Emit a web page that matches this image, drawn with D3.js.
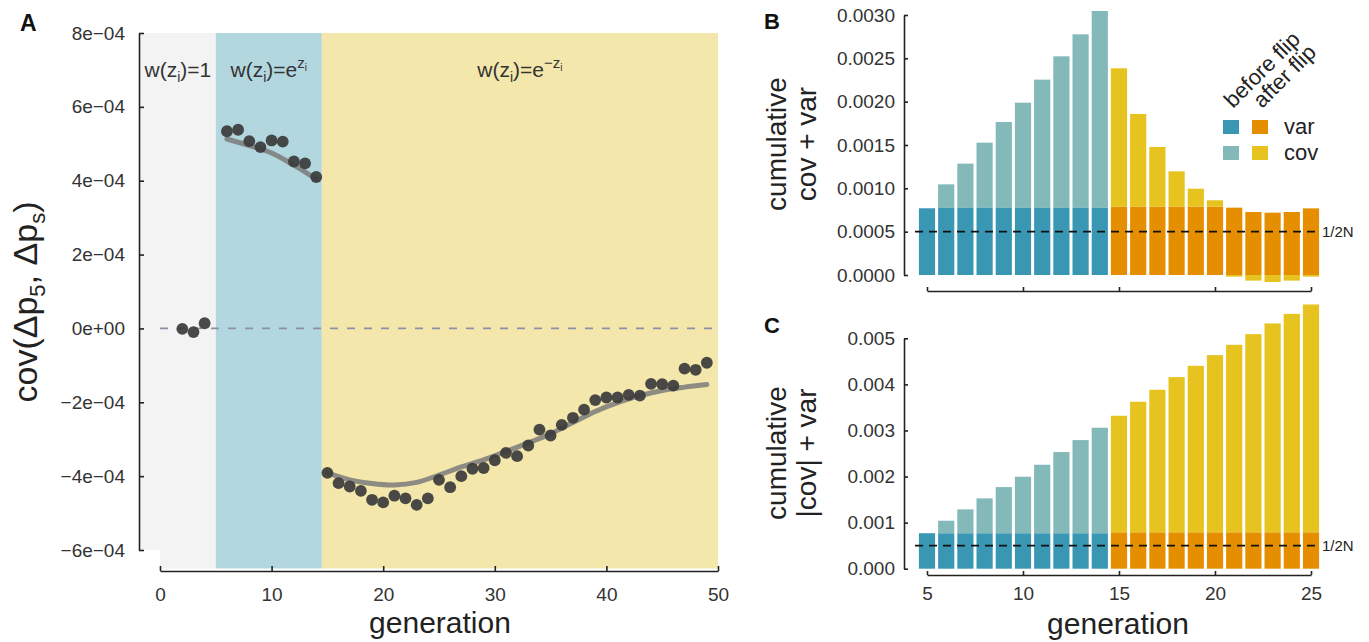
<!DOCTYPE html>
<html>
<head>
<meta charset="utf-8">
<script src="https://cdn.jsdelivr.net/npm/d3@7"></script>
<style>
body { margin: 0; background: #fff; }
svg { font-family: 'Liberation Sans', Arial, Helvetica, sans-serif; }
.axis path, .axis line { stroke: #222; stroke-width: 1.6; }
.axis text { font-size: 19px; fill: #333; font-family: 'Liberation Sans', Arial, sans-serif; }
</style>
</head>
<body>
<svg id="chart" width="1369" height="642"></svg>
<script>
// ---- panel A : cov(dp5, dps) per generation
var genA = [2, 3, 4,
    6, 7, 8, 9, 10, 11, 12, 13, 14,
    15, 16, 17, 18, 19, 20, 21, 22, 23, 24, 25, 26, 27, 28, 29, 30, 31, 32,
    33, 34, 35, 36, 37, 38, 39, 40, 41, 42, 43, 44, 45, 46, 47, 48, 49];
var covA = [-0.01e-4, -0.10e-4, 0.14e-4,
    5.34e-4, 5.38e-4, 5.07e-4, 4.91e-4, 5.09e-4, 5.06e-4, 4.52e-4, 4.47e-4, 4.10e-4,
    -3.91e-4, -4.19e-4, -4.28e-4, -4.40e-4, -4.64e-4, -4.71e-4, -4.53e-4, -4.60e-4, -4.78e-4, -4.60e-4,
    -4.10e-4, -4.30e-4, -4.00e-4, -3.80e-4, -3.78e-4, -3.57e-4, -3.37e-4, -3.46e-4, -3.17e-4, -2.74e-4,
    -2.90e-4, -2.61e-4, -2.42e-4, -2.20e-4, -1.94e-4, -1.87e-4, -1.87e-4, -1.80e-4, -1.82e-4, -1.50e-4,
    -1.51e-4, -1.55e-4, -1.09e-4, -1.12e-4, -0.93e-4];

var smoothGenBlue = [6, 8, 10, 12, 14];
var smoothBlue = [5.13e-4, 4.95e-4, 4.75e-4, 4.42e-4, 4.04e-4];
var smoothGenYellow = [15, 17, 19, 21, 23, 25, 27, 29, 31, 33, 35, 37, 39, 41, 43, 45, 47, 49];
var smoothYellow = [-3.91e-4, -4.10e-4, -4.20e-4, -4.24e-4, -4.17e-4, -3.97e-4, -3.75e-4, -3.56e-4, -3.33e-4,
    -3.10e-4, -2.85e-4, -2.55e-4, -2.25e-4, -2.01e-4, -1.82e-4, -1.68e-4, -1.59e-4, -1.52e-4];

var regionStart = [-1.8, 5, 14.5];
var regionEnd = [5, 14.5, 50];
var regionColors = ["#f3f3f3", "#b3d7df", "#f3e7ab"];

var yTicksA = [-6e-4, -4e-4, -2e-4, 0, 2e-4, 4e-4, 6e-4, 8e-4];
var yTickLabelsA = ["\u22126e\u221204", "\u22124e\u221204", "\u22122e\u221204", "0e+00", "2e\u221204", "4e\u221204", "6e\u221204", "8e\u221204"];
var xTicksA = [0, 10, 20, 30, 40, 50];

// ---- panels B and C : cumulative values, generations 5..25
var genBC = [5, 6, 7, 8, 9, 10, 11, 12, 13, 14, 15, 16, 17, 18, 19, 20, 21, 22, 23, 24, 25];
var flipGen = 15;
var varB = [0.00077, 0.00078, 0.00078, 0.00078, 0.00078, 0.00078, 0.00078, 0.00078, 0.00078, 0.00078,
    0.00079, 0.00079, 0.00079, 0.00079, 0.00079, 0.00079, 0.000777, 0.000727, 0.000719, 0.000727, 0.000769];
var covB = [0, 0.000266, 0.000505, 0.000747, 0.000985, 0.001208, 0.001474, 0.001743, 0.001997, 0.002266,
    0.001595, 0.001068, 0.000687, 0.000406, 0.000206, 0.000072, -0.000019, -0.000065, -0.000081, -0.000065, -0.000019];
var varC = [0.00077, 0.00077, 0.00077, 0.00077, 0.00077, 0.00077, 0.00077, 0.00077, 0.00077, 0.00077,
    0.00079, 0.00079, 0.00079, 0.00079, 0.00079, 0.00079, 0.00079, 0.00079, 0.00079, 0.00079, 0.00079];
var absCovC = [0, 0.000271, 0.000517, 0.000756, 0.001001, 0.001226, 0.001486, 0.001761, 0.002021, 0.002289,
    0.002529, 0.002833, 0.003093, 0.003368, 0.003613, 0.003845, 0.004069, 0.004300, 0.004532, 0.004741, 0.004944];
var halfN = 0.0005;

var yTicksB = [0, 0.0005, 0.001, 0.0015, 0.002, 0.0025, 0.003];
var yTicksC = [0, 0.001, 0.002, 0.003, 0.004, 0.005];
var xTicksBC = [5, 10, 15, 20, 25];

var colVarBefore = "#3a97b4", colCovBefore = "#83b9b9";
var colVarAfter = "#e58f00", colCovAfter = "#e6c31e";

var svg = d3.select("#chart");

function richText(sel, parts) {
    // parts: [text, fontSize, dy]
    parts.forEach(function(p) {
        sel.append("tspan").text(p[0]).attr("font-size", p[1]).attr("dy", p[2]);
    });
}

// ================= PANEL A =================
var xA = d3.scaleLinear().domain([0, 50]).range([160, 718]);
var yA = d3.scaleLinear().domain([-6e-4, 8e-4]).range([550, 33]);
var gA = svg.append("g");

regionStart.forEach(function(s, i) {
    gA.append("rect")
        .attr("x", xA(s)).attr("y", yA(8e-4))
        .attr("width", xA(regionEnd[i]) - xA(s))
        .attr("height", yA(-6.5e-4) - yA(8e-4))
        .attr("fill", regionColors[i]);
});
// white corner where the capped axes leave a gap
gA.append("rect")
    .attr("x", xA(-1.8)).attr("y", yA(-6e-4))
    .attr("width", xA(0) - xA(-1.8)).attr("height", yA(-6.5e-4) - yA(-6e-4) + 2)
    .attr("fill", "#fff");

gA.append("line")
    .attr("x1", xA(0)).attr("x2", xA(50))
    .attr("y1", yA(0)).attr("y2", yA(0))
    .attr("stroke", "#8d8fa2").attr("stroke-width", 1.8)
    .attr("stroke-dasharray", "8,9");

var line = d3.line()
    .x(function(d) { return xA(d[0]); })
    .y(function(d) { return yA(d[1]); })
    .curve(d3.curveCatmullRom);

gA.append("path")
    .datum(smoothGenBlue.map(function(g, i) { return [g, smoothBlue[i]]; }))
    .attr("d", line).attr("fill", "none")
    .attr("stroke", "#7a7a7a").attr("stroke-opacity", 0.85)
    .attr("stroke-width", 5).attr("stroke-linecap", "round");
gA.append("path")
    .datum(smoothGenYellow.map(function(g, i) { return [g, smoothYellow[i]]; }))
    .attr("d", line).attr("fill", "none")
    .attr("stroke", "#7a7a7a").attr("stroke-opacity", 0.85)
    .attr("stroke-width", 5).attr("stroke-linecap", "round");

gA.selectAll("circle.pt")
    .data(genA)
    .enter()
    .append("circle")
    .attr("class", "pt")
    .attr("cx", function(d) { return xA(d); })
    .attr("cy", function(d, i) { return yA(covA[i]); })
    .attr("r", 5.9)
    .attr("fill", "#3b3b3b")
    .attr("fill-opacity", 0.92);

gA.append("g")
    .attr("class", "axis")
    .attr("transform", "translate(139,0)")
    .call(d3.axisLeft(yA).tickValues(yTicksA).tickSize(-5).tickSizeOuter(0).tickPadding(14)
        .tickFormat(function(d, i) { return yTickLabelsA[i]; }));

gA.append("g")
    .attr("class", "axis")
    .attr("transform", "translate(0,571)")
    .call(d3.axisBottom(xA).tickValues(xTicksA).tickSize(-5).tickSizeOuter(0).tickPadding(17));

// region labels
var lab1 = gA.append("text").attr("x", (xA(-1.8) + xA(5)) / 2).attr("y", 77)
    .attr("text-anchor", "middle").attr("fill", "#333");
richText(lab1, [["w(z", 21, 0], ["i", 14, 5], [")=1", 21, -5]]);
var lab2 = gA.append("text").attr("x", (xA(5) + xA(14.5)) / 2).attr("y", 77)
    .attr("text-anchor", "middle").attr("fill", "#333");
richText(lab2, [["w(z", 21, 0], ["i", 14, 5], [")=e", 21, -5], ["z", 15, -9], ["i", 10, 3]]);
var lab3 = gA.append("text").attr("x", (xA(14.5) + xA(50)) / 2).attr("y", 77)
    .attr("text-anchor", "middle").attr("fill", "#333");
richText(lab3, [["w(z", 21, 0], ["i", 14, 5], [")=e", 21, -5], ["\u2212z", 15, -9], ["i", 10, 3]]);

var ytA = gA.append("text").attr("transform", "translate(37,302) rotate(-90)")
    .attr("text-anchor", "middle").attr("fill", "#222");
richText(ytA, [["cov(\u0394p", 34, 0], ["5", 22, 8], [",  \u0394p", 34, -8], ["s", 22, 8], [")", 34, -8]]);

gA.append("text").attr("x", 440).attr("y", 633).attr("text-anchor", "middle")
    .attr("font-size", 30).attr("fill", "#222").text("generation");
gA.append("text").attr("x", 20).attr("y", 31).attr("font-size", 23)
    .attr("font-weight", "bold").attr("fill", "#111").text("A");

// ================= PANELS B / C =================
var xBC = d3.scaleLinear().domain([5, 25]).range([927, 1311]);
var barW = 16.2;

function barColor(g, isVar) {
    if (g < flipGen) return isVar ? colVarBefore : colCovBefore;
    return isVar ? colVarAfter : colCovAfter;
}

function drawBars(g, y, vars, covs) {
    g.selectAll("rect.var")
        .data(genBC)
        .enter()
        .append("rect")
        .attr("class", "var")
        .attr("x", function(d) { return xBC(d) - barW / 2; })
        .attr("y", function(d, i) { return y(vars[i]); })
        .attr("width", barW)
        .attr("height", function(d, i) { return y(0) - y(vars[i]); })
        .attr("fill", function(d) { return barColor(d, true); });
    g.selectAll("rect.cov")
        .data(genBC)
        .enter()
        .append("rect")
        .attr("class", "cov")
        .attr("x", function(d) { return xBC(d) - barW / 2; })
        .attr("y", function(d, i) { return covs[i] >= 0 ? y(vars[i] + covs[i]) : y(0); })
        .attr("width", barW)
        .attr("height", function(d, i) {
            return covs[i] >= 0 ? y(vars[i]) - y(vars[i] + covs[i]) : y(covs[i]) - y(0);
        })
        .attr("fill", function(d) { return barColor(d, false); });

    g.append("line")
        .attr("x1", xBC(5) - 12).attr("x2", xBC(25) + 7)
        .attr("y1", y(halfN)).attr("y2", y(halfN))
        .attr("stroke", "#111").attr("stroke-width", 1.8)
        .attr("stroke-dasharray", "8,6");
    g.append("text").attr("x", xBC(25) + 11).attr("y", y(halfN) + 5)
        .attr("font-size", 15).attr("fill", "#222").text("1/2N");
}

// ---- B
var yB = d3.scaleLinear().domain([0, 0.003]).range([275, 15]);
var gB = svg.append("g");
drawBars(gB, yB, varB, covB);
gB.append("g")
    .attr("class", "axis")
    .attr("transform", "translate(904,0)")
    .call(d3.axisLeft(yB).tickValues(yTicksB).tickSize(-4).tickSizeOuter(0).tickPadding(9)
        .tickFormat(d3.format(".4f")));
gB.append("g")
    .attr("class", "axis")
    .attr("transform", "translate(0,291)")
    .call(d3.axisBottom(xBC).tickValues(xTicksBC).tickSize(-4).tickSizeOuter(0).tickFormat(""));

gB.append("text").attr("transform", "translate(786,144) rotate(-90)")
    .attr("text-anchor", "middle").attr("font-size", 28).attr("fill", "#222").text("cumulative");
gB.append("text").attr("transform", "translate(816,144) rotate(-90)")
    .attr("text-anchor", "middle").attr("font-size", 28).attr("fill", "#222").text("cov + var");
gB.append("text").attr("x", 764).attr("y", 29).attr("font-size", 22)
    .attr("font-weight", "bold").attr("fill", "#111").text("B");

// legend
var legendCols = [["before flip", colVarBefore, colCovBefore], ["after flip", colVarAfter, colCovAfter]];
var legendRows = ["var", "cov"];
legendCols.forEach(function(c, i) {
    var cx = 1231 + i * 29;
    gB.append("text").attr("transform", "translate(" + (cx + 2) + ",109) rotate(-45)")
        .attr("font-size", 22).attr("fill", "#222").text(c[0]);
    legendRows.forEach(function(r, j) {
        gB.append("rect").attr("x", cx - 8).attr("y", 120 + j * 26)
            .attr("width", 16).attr("height", 14).attr("fill", c[1 + j]);
    });
});
legendRows.forEach(function(r, j) {
    gB.append("text").attr("x", 1284).attr("y", 134 + j * 26)
        .attr("font-size", 22).attr("fill", "#222").text(r);
});

// ---- C
var yC = d3.scaleLinear().domain([0, 0.005]).range([568.7, 338.3]);
var gC = svg.append("g");
drawBars(gC, yC, varC, absCovC);
gC.append("g")
    .attr("class", "axis")
    .attr("transform", "translate(904,0)")
    .call(d3.axisLeft(yC).tickValues(yTicksC).tickSize(-4).tickSizeOuter(0).tickPadding(9)
        .tickFormat(d3.format(".3f")));
gC.append("g")
    .attr("class", "axis")
    .attr("transform", "translate(0,575)")
    .call(d3.axisBottom(xBC).tickValues(xTicksBC).tickSize(-4).tickSizeOuter(0).tickPadding(12));

gC.append("text").attr("transform", "translate(786,453) rotate(-90)")
    .attr("text-anchor", "middle").attr("font-size", 28).attr("fill", "#222").text("cumulative");
gC.append("text").attr("transform", "translate(816,453) rotate(-90)")
    .attr("text-anchor", "middle").attr("font-size", 28).attr("fill", "#222").text("|cov| + var");
gC.append("text").attr("x", 764).attr("y", 333).attr("font-size", 22)
    .attr("font-weight", "bold").attr("fill", "#111").text("C");
gC.append("text").attr("x", 1118).attr("y", 634).attr("text-anchor", "middle")
    .attr("font-size", 30).attr("fill", "#222").text("generation");
</script>
</body>
</html>
